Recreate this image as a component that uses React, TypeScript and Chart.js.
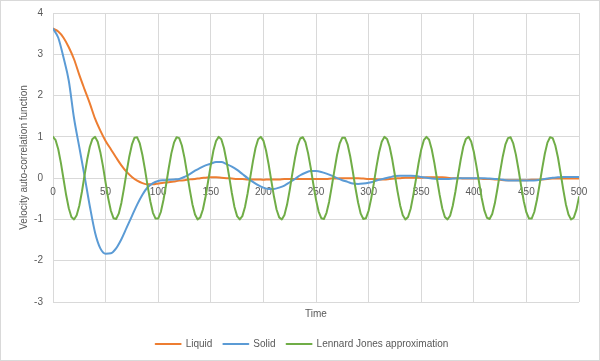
import React, { useEffect, useRef } from 'react';
import { Chart, registerables } from 'chart.js';

Chart.register(...registerables);

// Sampling grids (time units)
const LIQUID_SOLID_STEP = 5;
const LJ_STEP = 2.5;

const X_MIN = 0;
const X_MAX = 500;
const X_STEP = 50;
const Y_MIN = -3;
const Y_MAX = 4;
const Y_STEP = 1;

const seriesNames = ['Liquid', 'Solid', 'Lennard Jones approximation'];

// Liquid, t = 0..500 every 5
const liquid = [
  3.62, 3.55, 3.40, 3.17, 2.88, 2.50, 2.15, 1.81, 1.44, 1.15,
  0.90, 0.70, 0.50, 0.31, 0.15, 0.03, -0.06, -0.12, -0.15, -0.15,
  -0.13, -0.11, -0.10, -0.08, -0.06, -0.05, -0.03, -0.02, 0.00, 0.01,
  0.02, 0.02, 0.01, 0.00, -0.01, -0.02, -0.02, -0.03, -0.03, -0.03,
  -0.04, -0.03, -0.03, -0.03, -0.02, -0.02, -0.02, -0.02, -0.02, -0.02,
  -0.02, -0.02, -0.02, -0.01, -0.01, 0.00, 0.00, 0.00, 0.00, -0.01,
  -0.02, -0.02, -0.03, -0.03, -0.02, -0.01, 0.00, 0.01, 0.01, 0.01,
  0.01, 0.02, 0.02, 0.02, 0.02, 0.01, 0.00, 0.00, -0.01, -0.01,
  -0.01, -0.01, -0.02, -0.02, -0.03, -0.04, -0.05, -0.05, -0.05, -0.05,
  -0.05, -0.04, -0.04, -0.03, -0.02, -0.01, -0.01, -0.01, -0.01, -0.01,
  -0.01,
];

// Solid, t = 0..500 every 5
const solid = [
  3.62, 3.40, 2.92, 2.36, 1.45, 0.75, 0.05, -0.68, -1.32, -1.70,
  -1.83, -1.82, -1.70, -1.48, -1.20, -0.92, -0.64, -0.40, -0.22, -0.12,
  -0.07, -0.05, -0.04, -0.03, -0.02, 0.03, 0.10, 0.18, 0.25, 0.31,
  0.35, 0.39, 0.39, 0.34, 0.28, 0.20, 0.10, 0.00, -0.09, -0.17,
  -0.23, -0.26, -0.26, -0.23, -0.18, -0.10, -0.02, 0.07, 0.13, 0.17,
  0.17, 0.15, 0.11, 0.06, 0.00, -0.05, -0.09, -0.13, -0.14, -0.13,
  -0.11, -0.08, -0.04, -0.01, 0.02, 0.05, 0.06, 0.06, 0.06, 0.05,
  0.03, 0.01, -0.01, -0.02, -0.02, -0.02, -0.01, 0.00, 0.00, 0.00,
  0.00, 0.00, 0.00, -0.01, -0.02, -0.03, -0.05, -0.06, -0.06, -0.06,
  -0.06, -0.06, -0.05, -0.03, -0.01, 0.01, 0.02, 0.03, 0.03, 0.03,
  0.03,
];

// Lennard Jones approximation, t = 0..500 every 2.5
const lennardJones = [
  1.00, 0.92, 0.70, 0.37, -0.02, -0.41, -0.73, -0.94, -1.00, -0.90,
  -0.67, -0.33, 0.07, 0.45, 0.76, 0.95, 1.00, 0.88, 0.63, 0.29,
  -0.11, -0.49, -0.79, -0.97, -0.99, -0.86, -0.60, -0.24, 0.15, 0.52,
  0.81, 0.98, 0.99, 0.84, 0.56, 0.20, -0.20, -0.56, -0.84, -0.98,
  -0.98, -0.82, -0.53, -0.16, 0.24, 0.60, 0.86, 0.99, 0.97, 0.79,
  0.49, 0.11, -0.28, -0.63, -0.88, -1.00, -0.95, -0.76, -0.45, -0.07,
  0.32, 0.67, 0.90, 1.00, 0.94, 0.73, 0.41, 0.03, -0.36, -0.70,
  -0.92, -1.00, -0.92, -0.70, -0.37, 0.02, 0.40, 0.73, 0.94, 1.00,
  0.91, 0.67, 0.33, -0.06, -0.44, -0.76, -0.95, -1.00, -0.89, -0.64,
  -0.29, 0.11, 0.48, 0.79, 0.96, 0.99, 0.87, 0.60, 0.25, -0.15,
  -0.52, -0.81, -0.97, -0.99, -0.84, -0.57, -0.20, 0.19, 0.56, 0.84,
  0.98, 0.98, 0.82, 0.53, 0.16, -0.24, -0.59, -0.86, -0.99, -0.97,
  -0.79, -0.49, -0.12, 0.28, 0.63, 0.88, 1.00, 0.95, 0.76, 0.45,
  0.07, -0.32, -0.66, -0.90, -1.00, -0.94, -0.74, -0.41, -0.03, 0.36,
  0.69, 0.92, 1.00, 0.93, 0.70, 0.37, -0.02, -0.40, -0.73, -0.94,
  -1.00, -0.91, -0.67, -0.33, 0.06, 0.44, 0.76, 0.95, 1.00, 0.89,
  0.64, 0.29, -0.10, -0.48, -0.78, -0.96, -0.99, -0.87, -0.61, -0.25,
  0.15, 0.52, 0.81, 0.97, 0.99, 0.84, 0.57, 0.21, -0.19, -0.56,
  -0.83, -0.98, -0.98, -0.82, -0.53, -0.16, 0.23, 0.59, 0.86, 0.99,
  0.97, 0.79, 0.50, 0.12, -0.27, -0.63, -0.88, -1.00, -0.96, -0.77,
  -0.46,
];

const COLORS = ['#ED7D31', '#5B9BD5', '#70AD47'];
const TEXT = '#595959';
const GRID = '#d9d9d9';
const FONT = 'Liberation Sans, Arial, sans-serif';

const toPoints = (vals: number[], step: number) => vals.map((v, i) => ({ x: i * step, y: v }));

const framePlugin = {
  id: 'frame',
  beforeDraw(chart: any) {
    const { ctx, width, height } = chart;
    ctx.save();
    ctx.fillStyle = '#ffffff';
    ctx.fillRect(0, 0, width, height);
    ctx.restore();
  },
  afterDraw(chart: any) {
    const { ctx, width, height } = chart;
    ctx.save();
    ctx.strokeStyle = GRID;
    ctx.lineWidth = 1;
    ctx.strokeRect(0.5, 0.5, width - 1, height - 1);
    ctx.restore();
  },
};

export default function App() {
  const ref = useRef<HTMLCanvasElement | null>(null);

  useEffect(() => {
    document.body.style.margin = '0';
    if (!ref.current) return;
    const font = { family: FONT, size: 10 };
    const chart = new Chart(ref.current, {
      type: 'line',
      data: {
        datasets: [
          {
            label: seriesNames[0],
            data: toPoints(liquid, LIQUID_SOLID_STEP),
            borderColor: COLORS[0],
            backgroundColor: COLORS[0],
            borderWidth: 2,
            pointRadius: 0,
            cubicInterpolationMode: 'monotone',
            order: 3,
          },
          {
            label: seriesNames[1],
            data: toPoints(solid, LIQUID_SOLID_STEP),
            borderColor: COLORS[1],
            backgroundColor: COLORS[1],
            borderWidth: 2,
            pointRadius: 0,
            cubicInterpolationMode: 'monotone',
            order: 2,
          },
          {
            label: seriesNames[2],
            data: toPoints(lennardJones, LJ_STEP),
            borderColor: COLORS[2],
            backgroundColor: COLORS[2],
            borderWidth: 2,
            pointRadius: 0,
            order: 1,
          },
        ],
      },
      options: {
        animation: false,
        responsive: false,
        layout: { padding: { left: 14, right: 10, top: 13, bottom: 2 } },
        elements: { line: { borderJoinStyle: 'round', borderCapStyle: 'round' } },
        plugins: {
          legend: {
            position: 'bottom',
            labels: {
              boxWidth: 25,
              boxHeight: 0,
              padding: 11,
              color: TEXT,
              font,
              sort: (a: any, b: any) => a.datasetIndex - b.datasetIndex,
            },
          },
          tooltip: { enabled: false },
        },
        scales: {
          x: {
            type: 'linear',
            min: X_MIN,
            max: X_MAX,
            ticks: { stepSize: X_STEP, display: false },
            grid: { color: GRID, drawTicks: false },
            border: { display: false },
            title: { display: true, text: 'Time', color: TEXT, font, padding: { top: 6, bottom: 8 } },
          },
          xLabels: {
            type: 'linear',
            axis: 'x',
            position: { y: 0 },
            min: X_MIN,
            max: X_MAX,
            ticks: { stepSize: X_STEP, color: TEXT, font, padding: 8 },
            grid: { display: false, drawTicks: false },
            border: { display: false },
          },
          y: {
            type: 'linear',
            min: Y_MIN,
            max: Y_MAX,
            ticks: { stepSize: Y_STEP, color: TEXT, font, padding: 10 },
            grid: { color: GRID, drawTicks: false },
            border: { display: false },
            title: {
              display: true,
              text: 'Velocity auto-correlation function',
              color: TEXT,
              font,
              padding: { top: 4, bottom: 4 },
            },
            afterFit: (s: any) => {
              s.width = 39;
              s.paddingTop = 0;
              s.paddingBottom = 0;
            },
          },
          yRight: {
            type: 'linear',
            axis: 'y',
            position: 'right',
            ticks: { display: false },
            grid: { display: false, drawTicks: false },
            border: { display: false },
            afterFit: (s: any) => {
              s.width = 11;
              s.paddingTop = 0;
              s.paddingBottom = 0;
            },
          },
        },
      } as any,
      plugins: [framePlugin],
    });
    return () => chart.destroy();
  }, []);

  return (
    <div style={{ position: 'absolute', left: 0, top: 0, width: 600, height: 361 }}>
      <canvas ref={ref} width={600} height={361} style={{ display: 'block', width: 600, height: 361 }} />
    </div>
  );
}
